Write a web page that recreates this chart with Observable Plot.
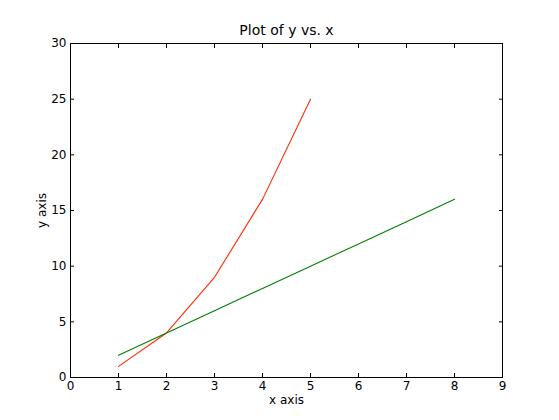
<!DOCTYPE html>
<html>
<head>
<meta charset="utf-8">
<script src="https://cdn.jsdelivr.net/npm/d3@7"></script>
<script src="https://cdn.jsdelivr.net/npm/@observablehq/plot@0.6"></script>
<style>
  html, body { margin: 0; padding: 0; background: #fff; }
  svg { font-family: "DejaVu Sans", sans-serif; }
</style>
</head>
<body>
<div id="chart"></div>
<script>
const title = "Plot of y vs. x";
const xLabel = "x axis";
const yLabel = "y axis";
const redX = [1, 2, 3, 4, 5];
const redY = [1, 4, 9, 16, 25];
const greenX = [1, 2, 3, 4, 5, 6, 7, 8];
const greenY = [2, 4, 6, 8, 10, 12, 14, 16];
const xTicks = [0, 1, 2, 3, 4, 5, 6, 7, 8, 9];
const yTicks = [0, 5, 10, 15, 20, 25, 30];

const red = redX.map((x, i) => ({x, y: redY[i]}));
const green = greenX.map((x, i) => ({x, y: greenY[i]}));

const chart = Plot.plot({
  width: 559,
  height: 420,
  marginLeft: 70,
  marginRight: 57,
  marginTop: 43,
  marginBottom: 43,
  style: {fontFamily: "DejaVu Sans, sans-serif", fontSize: "12px", color: "black", background: "white"},
  x: {domain: [0, 9]},
  y: {domain: [0, 30]},
  marks: [
    Plot.line(red, {x: "x", y: "y", stroke: "#ff2a00", strokeWidth: 1.1}),
    Plot.line(green, {x: "x", y: "y", stroke: "#008000", strokeWidth: 1.1}),
    Plot.frame({stroke: "black", strokeWidth: 1}),
    Plot.axisX({ticks: xTicks, anchor: "bottom", tickSize: -4, tickPadding: 8, label: xLabel, labelAnchor: "center", labelOffset: 26, labelArrow: "none", fontSize: 12}),
    Plot.axisX({ticks: xTicks, anchor: "top", tickSize: -4, tickFormat: () => "", label: null}),
    Plot.axisY({ticks: yTicks, anchor: "left", tickSize: -4, tickPadding: 8, label: yLabel, labelAnchor: "center", labelOffset: 33, labelArrow: "none", fontSize: 12}),
    Plot.axisY({ticks: yTicks, anchor: "right", tickSize: -4, tickFormat: () => "", label: null}),
    Plot.text([title], {text: d => d, frameAnchor: "top", lineAnchor: "middle", dy: -13, fontSize: 14})
  ]
});
document.getElementById("chart").appendChild(chart);
</script>
</body>
</html>
